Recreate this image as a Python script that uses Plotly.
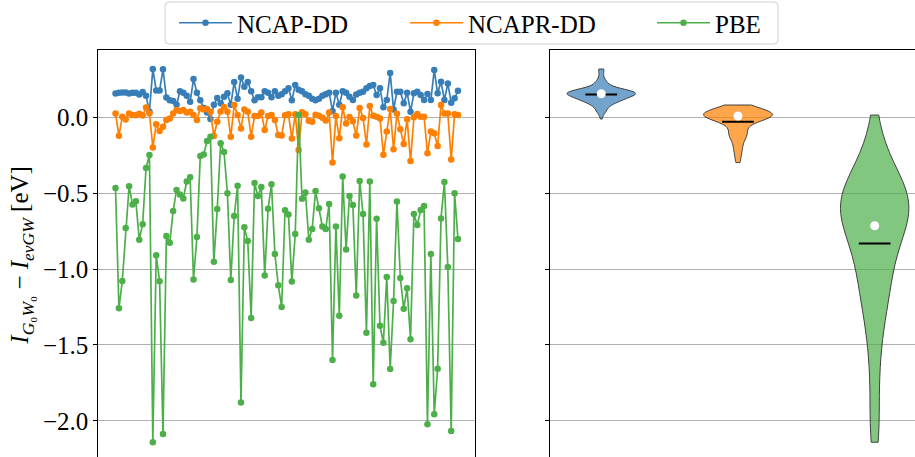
import numpy as np
import plotly.graph_objects as go

# Ionisation-energy differences (eV) for each molecule, per functional
methods = ["NCAP-DD", "NCAPR-DD", "PBE"]
colors = ["#377eb8", "#ff7f00", "#4daf4a"]
fills = ["rgba(55,126,184,0.7)", "rgba(255,127,0,0.7)", "rgba(77,175,74,0.7)"]

ncap_dd = [
    0.155, 0.160, 0.162, 0.162, 0.155, 0.160, 0.160, 0.149, 0.164, 0.140,
    0.035, 0.316, 0.175, 0.175, 0.314, 0.129, 0.110, 0.105, 0.080, 0.170,
    0.160, 0.140, 0.100, 0.250, 0.160, 0.110, 0.060, 0.030, -0.013, 0.080,
    0.125, 0.090, 0.134, 0.156, 0.080, 0.230, 0.120, 0.260, 0.200, 0.230,
    0.170, 0.110, 0.130, 0.130, 0.170, 0.160, 0.130, 0.170, 0.140, 0.150,
    0.170, 0.190, 0.110, 0.210, 0.180, 0.170, 0.150, 0.140, 0.120, 0.110,
    0.120, 0.140, 0.150, 0.160, 0.040, 0.160, 0.080, 0.170, 0.160, 0.134,
    0.112, 0.149, 0.160, 0.167, 0.189, 0.204, 0.211, 0.145, 0.189, 0.064,
    0.112, 0.290, 0.050, 0.167, 0.167, 0.090, 0.160, 0.035, 0.156, 0.167,
    0.145, 0.112, 0.151, 0.112, 0.309, 0.156, 0.232, 0.112, 0.221, 0.094,
    0.123, 0.173,
]

ncapr_dd = [
    0.024, -0.124, 0.002, -0.016, 0.024, 0.013, 0.011, 0.021, 0.010, 0.062,
    0.025, -0.200, -0.047, -0.092, -0.064, -0.020, -0.009, 0.024, 0.046, 0.039,
    0.046, 0.029, 0.035, 0.013, -0.020, 0.057, 0.050, 0.053, 0.035, -0.125,
    -0.031, 0.037, 0.066, 0.035, -0.129, 0.079, 0.013, -0.075, 0.050, 0.035,
    -0.129, 0.007, 0.007, 0.029, -0.086, 0.007, 0.013, -0.020, -0.118, -0.122,
    0.011, 0.019, -0.142, 0.019, -0.217, 0.031, 0.019, -0.025, -0.031, 0.015,
    0.009, -0.004, -0.023, 0.030, -0.300, 0.006, -0.140, 0.064, -0.042, 0.000,
    -0.028, -0.122, 0.059, -0.006, -0.180, 0.073, 0.008, 0.002, -0.009, -0.248,
    -0.096, 0.053, -0.212, 0.022, -0.080, -0.178, -0.015, -0.289, -0.002, 0.020,
    0.002, 0.002, -0.239, -0.096, -0.107, -0.191, 0.079, 0.024, 0.024, -0.279,
    0.018, 0.013,
]

pbe = [
    -0.467, -1.259, -1.079, -0.731, -0.456, -0.575, -0.555, -0.807, -0.705, -0.336,
    -0.250, -2.140, -0.910, -1.081, -2.086, -0.783, -0.827, -0.618, -0.480, -0.509,
    -0.536, -0.424, -0.396, -1.069, -0.789, -0.256, -0.247, -0.158, -0.129, -0.953,
    -0.606, -0.173, -0.230, -0.501, -1.072, -0.651, -0.452, -1.879, -0.726, -0.816,
    -1.322, -0.434, -0.520, -0.461, -1.042, -0.603, -0.443, -0.901, -1.107, -1.250,
    -0.613, -0.641, -1.083, -0.770, 0.013, -0.537, -0.497, -0.807, -0.736, -0.487,
    -0.601, -0.720, -0.736, -0.572, -1.598, -0.720, -1.308, -0.392, -0.871, -0.520,
    -0.579, -1.175, -0.421, -0.638, -1.419, -0.425, -1.759, -0.669, -1.374, -1.485,
    -1.052, -1.658, -1.211, -0.556, -1.059, -1.261, -1.127, -1.463, -0.638, -0.711,
    -0.612, -0.586, -2.022, -0.901, -1.956, -1.656, -0.667, -0.428, -0.987, -2.066,
    -0.502, -0.803,
]

series = [ncap_dd, ncapr_dd, pbe]
violin_pos = [1, 2, 3]
y_ticks = [0.0, -0.5, -1.0, -1.5, -2.0]

W, H = 915, 457
font_family = "Liberation Serif"
legend_ids = ["legend", "legend2", "legend3"]
legend_left_px = [174, 405, 652]

fig = go.Figure()

# Left panel: per-molecule values
for name, col, vals, lg in zip(methods, colors, series, legend_ids):
    fig.add_trace(go.Scatter(
        x=list(range(len(vals))), y=vals, name=name, mode="lines+markers",
        line=dict(color=col, width=1.7), marker=dict(color=col, size=6.5),
        xaxis="x", yaxis="y", legend=lg,
    ))

# Right panel: distributions (KDE with Scott's bandwidth, clipped at data range)
for pos, col, fill, vals in zip(violin_pos, colors, fills, series):
    arr = np.asarray(vals)
    bw = arr.std(ddof=1) * len(arr) ** (-1 / 5)
    fig.add_trace(go.Violin(
        x0=pos, y=vals, width=0.5, spanmode="hard", bandwidth=bw,
        points=False, fillcolor=fill, line=dict(color="#404040", width=1),
        box_visible=False, meanline_visible=False, showlegend=False,
        hoverinfo="skip", xaxis="x2", yaxis="y2",
    ))

# Mean bars (black) and median dots (white)
mx, my = [], []
for pos, vals in zip(violin_pos, series):
    m = float(np.mean(vals))
    mx += [pos - 0.116, pos + 0.116, None]
    my += [m, m, None]
fig.add_trace(go.Scatter(
    x=mx, y=my, mode="lines", line=dict(color="black", width=2),
    showlegend=False, hoverinfo="skip", xaxis="x2", yaxis="y2",
))
fig.add_trace(go.Scatter(
    x=violin_pos, y=[float(np.median(v)) for v in series], mode="markers",
    marker=dict(color="white", size=9, line=dict(width=0)),
    showlegend=False, hoverinfo="skip", xaxis="x2", yaxis="y2",
))

y_range = [-2.237, 0.443]
y_dom = [0.0, 1 - 49.7 / H]
axis_common = dict(
    range=y_range, domain=y_dom, tickvals=y_ticks, tickformat=".1f",
    showgrid=True, gridcolor="#b0b0b0", gridwidth=1, zeroline=False,
    ticks="outside", ticklen=4, tickwidth=1.2, tickcolor="black",
    showline=True, linecolor="black", linewidth=1.2,
)

legend_style = dict(
    orientation="h", xanchor="left", y=1 - 23 / H, yanchor="middle",
    borderwidth=0, bgcolor="rgba(0,0,0,0)", itemwidth=53,
    font=dict(size=25, family=font_family),
)

# Shared frame around the three legend entries (rounded corners)
fx0, fx1 = 165 / W, 778 / W
fy0, fy1 = 1 - 44 / H, 1 - 2 / H
rx, ry = 4 / W, 4 / H
frame_path = (
    f"M {fx0 + rx},{fy1} L {fx1 - rx},{fy1} Q {fx1},{fy1} {fx1},{fy1 - ry} "
    f"L {fx1},{fy0 + ry} Q {fx1},{fy0} {fx1 - rx},{fy0} "
    f"L {fx0 + rx},{fy0} Q {fx0},{fy0} {fx0},{fy0 + ry} "
    f"L {fx0},{fy1 - ry} Q {fx0},{fy1} {fx0 + rx},{fy1} Z"
)

layout_legends = {
    lg: dict(x=px / W, **legend_style) for lg, px in zip(legend_ids, legend_left_px)
}

fig.update_layout(
    width=W, height=H,
    margin=dict(l=0, r=0, t=0, b=0),
    paper_bgcolor="white", plot_bgcolor="white",
    font=dict(family=font_family, size=25, color="black"),
    xaxis=dict(domain=[98.4 / W, 475.1 / W], range=[-5.05, 106.05],
               side="top", showline=True, linecolor="black", linewidth=1.2,
               showticklabels=False, ticks="", showgrid=False, zeroline=False),
    xaxis2=dict(domain=[550 / W, 1.0], range=[0.625, 3.295],
                side="top", showline=True, linecolor="black", linewidth=1.2,
                showticklabels=False, ticks="", showgrid=False, zeroline=False),
    yaxis=dict(anchor="x", mirror=True, tickfont=dict(size=25), **axis_common),
    yaxis2=dict(anchor="x2", showticklabels=False, **axis_common),
    shapes=[dict(type="path", path=frame_path, xref="paper", yref="paper",
                 line=dict(color="#d0d0d0", width=1), fillcolor="white",
                 layer="below")],
    annotations=[dict(
        text="<i>I</i><sub><i>G</i>₀<i>W</i>₀</sub> − <i>I</i><sub><i>evGW</i></sub> [eV]",
        x=22 / W, y=(y_dom[0] + y_dom[1]) / 2 - 0.005, xref="paper", yref="paper",
        xanchor="center", yanchor="middle", textangle=-90, showarrow=False,
        font=dict(size=25, family=font_family),
    )],
    **layout_legends,
)

fig.write_html("out.html")
